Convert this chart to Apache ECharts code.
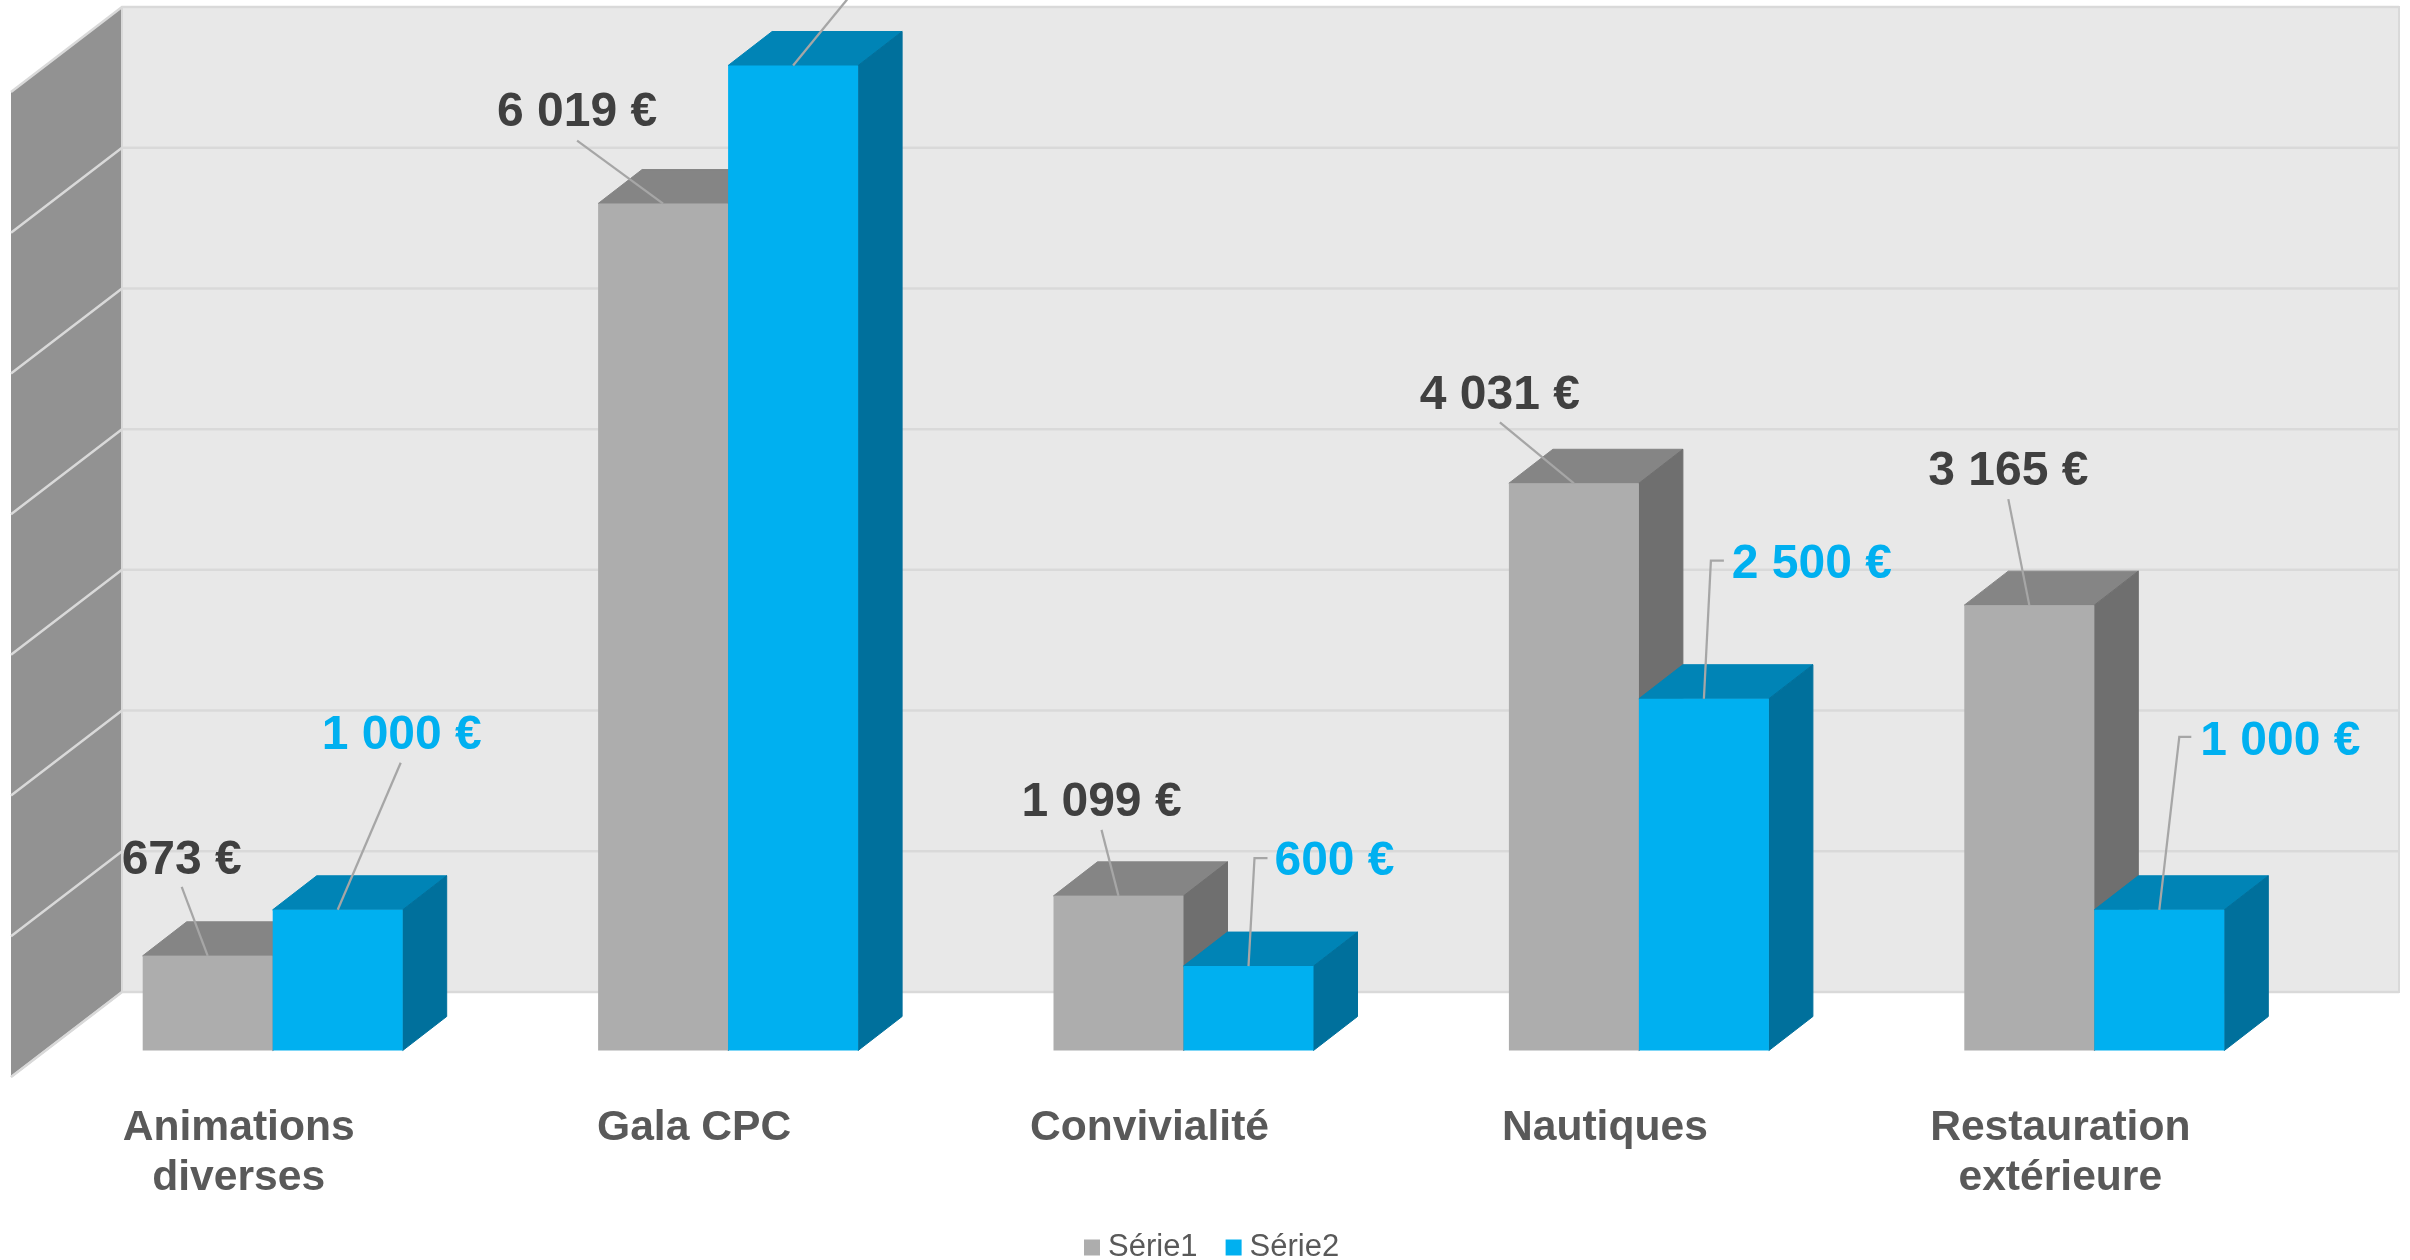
<!DOCTYPE html>
<html>
<head>
  <meta charset="UTF-8">
  <title>Budget</title>
  <script src="https://cdn.jsdelivr.net/npm/echarts@6/dist/echarts.min.js"></script>
  <style>
    html, body { margin: 0; padding: 0; background: #fff; }
    #main { width: 2410px; height: 1260px; }
  </style>
</head>
<body>
<div id="main"></div>
<script type="text/javascript">
  var categories = ['Animations\ndiverses', 'Gala CPC', 'Convivialité', 'Nautiques', 'Restauration\nextérieure'];
  var serie1 = [673, 6019, 1099, 4031, 3165];
  var serie2 = [1000, 7000, 600, 2500, 1000];
  var yTicks = [0, 1000, 2000, 3000, 4000, 5000, 6000, 7000];

  // label centre and leader line, as offsets in px from the middle of the bar's top edge
  var labels1 = [
    { text: [-26, -99], line: [[-26, -69]] },
    { text: [-86, -94], line: [[-86, -63]] },
    { text: [-17, -97], line: [[-17, -66]] },
    { text: [-74, -91], line: [[-74, -61]] },
    { text: [-21, -137], line: [[-21, -106]] }
  ];
  var labels2 = [
    { text: [64, -178], line: [[63, -147]] },
    { text: [67, -96], line: [[54, -66]] },
    { text: [86, -108], line: [[19, -108], [6, -108]] },
    { text: [108, -137], line: [[20, -138], [7, -138]] },
    { text: [121, -172], line: [[32, -173], [20, -173]] }
  ];

  var barWidth = 130;
  var barPlane = [34, -26.5];
  var barDepth = [44, -34];
  var wallDepth = [111, -85];
  var textNudge = 4;

  function poly(points, fill, lineWidth) {
    return { type: 'polygon', shape: { points: points }, style: { fill: fill, stroke: fill, lineWidth: lineWidth } };
  }

  function edge(points, width) {
    return { type: 'polyline', shape: { points: points }, style: { fill: 'none', stroke: '#d9d9d9', lineWidth: width } };
  }

  function renderWalls(params, api) {
    var band = api.size([1, 0])[0];
    var x0 = api.coord([0, 0])[0] - band / 2;
    var x1 = api.coord([4, 0])[0] + band / 2;
    var yBottom = api.coord([0, 0])[1];
    var yTop = api.coord([0, 7000])[1];
    var bx0 = x0 + wallDepth[0];
    var bx1 = x1 + wallDepth[0];
    var dy = wallDepth[1];
    var children = [
      { type: 'polygon', shape: { points: [[bx0, yTop + dy], [bx1, yTop + dy], [bx1, yBottom + dy], [bx0, yBottom + dy]] },
        style: { fill: '#e8e8e8', stroke: '#d9d9d9', lineWidth: 2 } },
      { type: 'polygon', shape: { points: [[x0, yTop], [bx0, yTop + dy], [bx0, yBottom + dy], [x0, yBottom]] },
        style: { fill: '#929292' } },
      edge([[bx0, yTop + dy], [bx0, yBottom + dy]], 2),
      edge([[x0, yBottom], [bx0, yBottom + dy]], 2)
    ];
    yTicks.forEach(function (t) {
      var y = api.coord([0, t])[1];
      children.push(edge([[x0, y], [bx0, y + dy], [bx1, y + dy]], 2.5));
    });
    return { type: 'group', children: children };
  }

  function makeBar(values, layout, side, front, top, right, textColor) {
    return function (params, api) {
      var i = params.dataIndex;
      var base = api.coord([i, 0]);
      var head = api.coord([i, values[i]]);
      var x0 = base[0] + barPlane[0] + (side < 0 ? -barWidth : 0);
      var x1 = x0 + barWidth;
      var y0 = base[1] + barPlane[1];
      var y1 = head[1] + barPlane[1];
      var dx = barDepth[0];
      var dy = barDepth[1];
      var mx = (x0 + x1) / 2;
      var pts = layout[i].line.map(function (p) { return [mx + p[0], y1 + p[1]]; });
      pts.push([mx, y1]);
      return {
        type: 'group',
        children: [
          poly([[x0, y1], [x0 + dx, y1 + dy], [x1 + dx, y1 + dy], [x1, y1]], top, 1),
          poly([[x1, y1], [x1 + dx, y1 + dy], [x1 + dx, y0 + dy], [x1, y0]], right, 1),
          poly([[x0, y1], [x1, y1], [x1, y0], [x0, y0]], front, 0),
          { type: 'polyline', z2: 5, shape: { points: pts }, style: { fill: 'none', stroke: '#a6a6a6', lineWidth: 2.25 } },
          { type: 'text', z2: 6, style: {
            text: values[i].toLocaleString('fr-FR').replace(/\s/g, ' ') + ' €',
            x: mx + layout[i].text[0], y: y1 + layout[i].text[1] + textNudge - 0.5,
            textAlign: 'center', textVerticalAlign: 'middle',
            font: 'bold 48px "Liberation Sans"', fill: textColor
          } }
        ]
      };
    };
  }

  var myChart = echarts.init(document.getElementById('main'));

  var option = {
    animation: false,
    backgroundColor: '#ffffff',
    grid: { left: 11, right: 122, top: 92, bottom: 183 },
    legend: {
      data: ['Série1', 'Série2'],
      left: 1084, top: 1232, padding: 0,
      icon: 'rect', itemWidth: 16, itemHeight: 16, itemGap: 28,
      textStyle: { fontFamily: 'Liberation Sans', fontSize: 31, color: '#595959', padding: [0, 0, 0, 3] }
    },
    xAxis: {
      type: 'category',
      data: categories,
      axisLine: { show: false },
      axisTick: { show: false },
      axisLabel: { interval: 0, margin: 26, fontFamily: 'Liberation Sans', fontWeight: 'bold', fontSize: 42.6, lineHeight: 50, color: '#595959' }
    },
    yAxis: {
      type: 'value', min: 0, max: 7000, interval: 1000,
      axisLine: { show: false }, axisTick: { show: false },
      axisLabel: { show: false }, splitLine: { show: false }
    },
    series: [
      { type: 'custom', name: 'walls', z: 1, silent: true, data: [0], renderItem: renderWalls },
      { type: 'custom', name: 'Série1', z: 2, itemStyle: { color: '#adadad' }, data: serie1.map(function (v, i) { return [i, v]; }),
        encode: { x: 0, y: 1 },
        renderItem: makeBar(serie1, labels1, -1, '#adadad', '#858585', '#6f6f6f', '#404040') },
      { type: 'custom', name: 'Série2', z: 3, itemStyle: { color: '#00b0f0' }, data: serie2.map(function (v, i) { return [i, v]; }),
        encode: { x: 0, y: 1 },
        renderItem: makeBar(serie2, labels2, 1, '#00b0f0', '#0084b6', '#00709c', '#00b0f0') }
    ]
  };

  myChart.setOption(option);
</script>
</body>
</html>
